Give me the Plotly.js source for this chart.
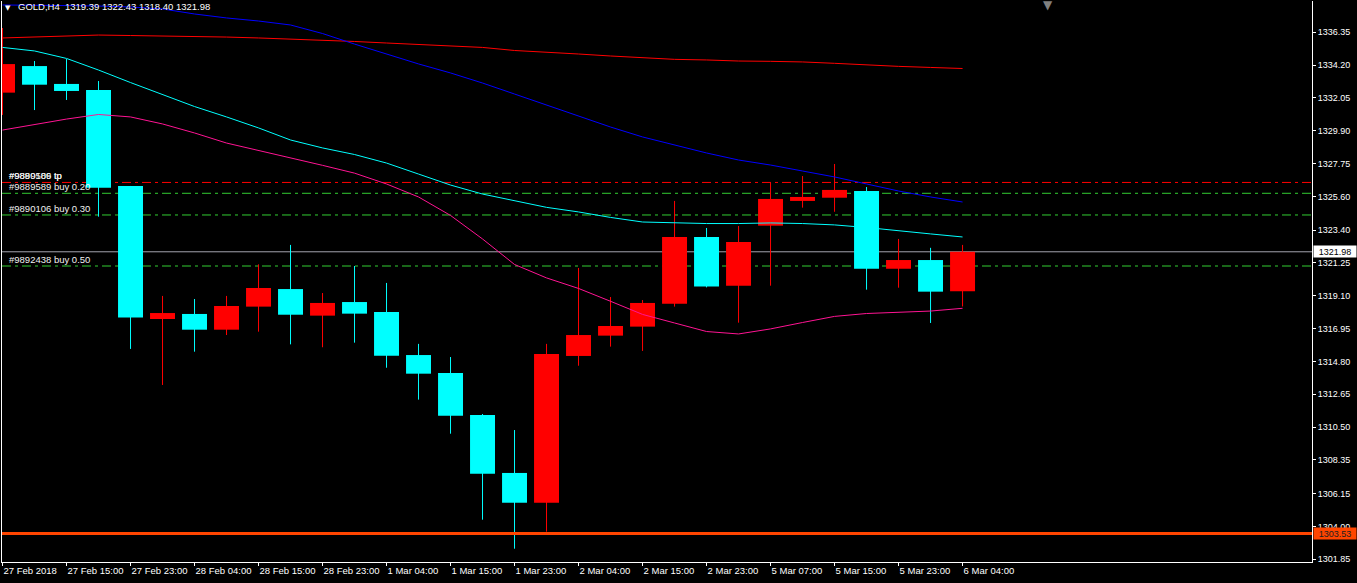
<!DOCTYPE html>
<html>
<head>
<meta charset="utf-8">
<script src="https://cdn.plot.ly/plotly-3.0.1.min.js"></script>
<style>
html,body{margin:0;padding:0;background:#000;}
#chart{width:1357px;height:583px;}
</style>
</head>
<body>
<div id="chart"></div>
<script>
// ---- Data (GOLD, H4) ----
const timeLabels = ["27 Feb 2018","27 Feb 15:00","27 Feb 23:00","28 Feb 04:00","28 Feb 15:00","28 Feb 23:00",
  "1 Mar 04:00","1 Mar 15:00","1 Mar 23:00","2 Mar 04:00","2 Mar 15:00","2 Mar 23:00",
  "5 Mar 07:00","5 Mar 15:00","5 Mar 23:00","6 Mar 04:00"];

const openP  = [1332.40,1334.14,1332.97,1332.57,1326.29,1317.58,1317.91,1316.88,1318.39,1319.54,
                1317.80,1318.69,1318.04,1315.22,1314.05,1311.30,1307.50,1305.55,1315.16,1316.49,
                1317.08,1318.58,1322.95,1319.76,1323.69,1325.31,1325.52,1325.96,1320.87,1321.44,1319.39];
const highP  = [1336.63,1334.47,1334.60,1333.16,1326.29,1319.09,1318.89,1319.09,1321.16,1322.43,
                1319.28,1321.05,1319.94,1315.95,1315.09,1311.36,1310.31,1315.95,1320.92,1319.02,
                1318.82,1325.31,1323.54,1323.67,1326.53,1326.94,1327.73,1326.22,1322.82,1322.24,1322.43];
const lowP   = [1330.94,1331.26,1331.92,1324.28,1315.62,1313.26,1315.44,1316.53,1316.75,1315.92,
                1315.73,1316.03,1314.39,1312.30,1310.07,1304.44,1302.54,1303.66,1314.52,1315.77,
                1315.49,1318.39,1319.65,1317.34,1319.76,1324.87,1324.60,1319.50,1319.63,1317.32,1318.40];
const closeP = [1334.27,1332.92,1332.51,1326.18,1317.67,1317.97,1316.88,1318.43,1319.61,1317.86,
                1318.63,1317.93,1315.18,1314.00,1311.25,1307.45,1305.55,1315.29,1316.53,1317.12,
                1318.63,1322.95,1319.70,1322.62,1325.44,1325.57,1326.03,1320.87,1321.44,1319.37,1321.98];

const maRed  = [1335.98,1336.04,1336.11,1336.17,1336.14,1336.11,1336.11,1336.04,1335.98,1335.91,
                1335.85,1335.75,1335.65,1335.55,1335.45,1335.36,1335.16,1335.06,1334.93,1334.80,
                1334.67,1334.58,1334.54,1334.47,1334.45,1334.41,1334.32,1334.21,1334.12,1334.05,1333.98];
const maBlue = [1338.14,1338.14,1338.10,1338.07,1338.01,1337.88,1337.55,1337.29,1337.09,1336.83,
                1336.27,1335.58,1334.93,1334.28,1333.69,1333.03,1332.31,1331.59,1330.87,1330.15,
                1329.50,1328.97,1328.45,1327.99,1327.66,1327.27,1326.88,1326.42,1325.96,1325.57,1325.24];
const maCyan = [1335.36,1335.13,1334.64,1333.88,1333.06,1332.28,1331.49,1330.81,1330.09,1329.30,
                1328.78,1328.35,1327.79,1327.07,1326.35,1325.76,1325.31,1324.89,1324.59,1324.23,
                1323.93,1323.87,1323.83,1323.83,1323.87,1323.83,1323.74,1323.57,1323.34,1323.15,1322.95];
const maPink = [1329.95,1330.31,1330.67,1330.97,1330.81,1330.35,1329.76,1329.10,1328.63,1328.13,
                1327.64,1327.13,1326.42,1325.57,1324.36,1322.82,1321.15,1320.27,1319.58,1318.74,
                1317.88,1317.32,1316.76,1316.60,1316.93,1317.35,1317.75,1317.94,1318.01,1318.10,1318.28];

const yTicks = [1301.85,1304.00,1306.15,1308.35,1310.50,1312.65,1314.80,1316.95,1319.10,
                1321.25,1323.40,1325.60,1327.75,1329.90,1332.05,1334.20,1336.35];

const tpPrice = 1326.52;
const tpLabels = ["#9889589 tp","#9890106 tp"];
const orderLabels = ["#9889589 buy 0.20","#9890106 buy 0.30","#9892438 buy 0.50"];
const orderPrices = [1325.81,1324.39,1321.05];
const bidPrice = 1321.98;
const lowLevel = 1303.53;
const header = "GOLD,H4  1319.39 1322.43 1318.40 1321.98";

// ---- Build traces ----
const idx = openP.map((_, i) => i);
const up = {x:[],base:[],h:[],wx:[],wy:[]}, dn = {x:[],base:[],h:[],wx:[],wy:[]};
for (let i = 0; i < openP.length; i++) {
  const o = openP[i], c = closeP[i];
  const g = c >= o ? up : dn;
  g.x.push(i); g.base.push(Math.min(o, c)); g.h.push(Math.max(Math.abs(c - o), 0.07));
  g.wx.push(i, i, null); g.wy.push(lowP[i], highP[i], null);
}
const UP = '#FF0000', DN = '#00FFFF';
const traces = [
  {type:'bar', x:up.x, y:up.h, base:up.base, width:0.78, marker:{color:UP, line:{width:0}}, hoverinfo:'skip'},
  {type:'bar', x:dn.x, y:dn.h, base:dn.base, width:0.78, marker:{color:DN, line:{width:0}}, hoverinfo:'skip'},
  {type:'scatter', mode:'lines', x:up.wx, y:up.wy, line:{color:UP, width:1}, hoverinfo:'skip', connectgaps:false},
  {type:'scatter', mode:'lines', x:dn.wx, y:dn.wy, line:{color:DN, width:1}, hoverinfo:'skip', connectgaps:false},
  {type:'scatter', mode:'lines', x:idx, y:maRed,  line:{color:'#FF0000', width:1}, hoverinfo:'skip'},
  {type:'scatter', mode:'lines', x:idx, y:maBlue, line:{color:'#0000FF', width:1}, hoverinfo:'skip'},
  {type:'scatter', mode:'lines', x:idx, y:maCyan, line:{color:'#00FFFF', width:1}, hoverinfo:'skip'},
  {type:'scatter', mode:'lines', x:idx, y:maPink, line:{color:'#FF1493', width:1}, hoverinfo:'skip'}
];

const FONT = 'Liberation Sans, Arial, sans-serif';
const dashPat = '9px,4px,3px,4px';
const shapes = [
  {type:'line', xref:'paper', x0:0, x1:1, yref:'y', y0:bidPrice, y1:bidPrice, line:{color:'#A4A4AE', width:1}, layer:'below'},
  {type:'line', xref:'paper', x0:0, x1:1, yref:'y', y0:tpPrice, y1:tpPrice, line:{color:'#FF0000', width:1, dash:dashPat}, layer:'below'}
];
orderPrices.forEach(p => shapes.push({type:'line', xref:'paper', x0:0, x1:1, yref:'y', y0:p, y1:p,
  line:{color:'#32CD32', width:1, dash:dashPat}, layer:'below'}));
shapes.push({type:'line', xref:'paper', x0:0, x1:1, yref:'y', y0:lowLevel, y1:lowLevel, line:{color:'#FF4500', width:3}, layer:'above'});

const lblX = 6/1310;
const annotations = [];
tpLabels.forEach(t => annotations.push({xref:'paper', x:lblX, xanchor:'left', yref:'y', y:tpPrice, yanchor:'bottom',
  yshift:0, text:t, showarrow:false, borderpad:0, font:{family:FONT, size:9.5, color:'#F0F0F0'}}));
orderLabels.forEach((t, i) => annotations.push({xref:'paper', x:lblX, xanchor:'left', yref:'y', y:orderPrices[i], yanchor:'bottom',
  yshift:0, text:t, showarrow:false, borderpad:0, font:{family:FONT, size:9.5, color:'#F0F0F0'}}));
annotations.push({xref:'paper', x:1, xanchor:'left', xshift:1, yref:'y', y:bidPrice, yanchor:'middle',
  text:bidPrice.toFixed(2), showarrow:false, bgcolor:'#FFFFFF', width:42, height:11, borderpad:0,
  font:{family:FONT, size:9, color:'#000000'}});
annotations.push({xref:'paper', x:1, xanchor:'left', xshift:1, yref:'y', y:lowLevel, yanchor:'middle',
  text:lowLevel.toFixed(2), showarrow:false, bgcolor:'#FF4500', width:42, height:11, borderpad:0,
  font:{family:FONT, size:9, color:'#202020'}});
annotations.push({xref:'paper', x:15/1310, xanchor:'left', yref:'paper', y:1, yanchor:'top', yshift:1,
  text:header, showarrow:false, borderpad:0, font:{family:FONT, size:9.5, color:'#FFFFFF'}});
annotations.push({xref:'paper', x:6/1310, xanchor:'center', yref:'paper', y:1, yanchor:'top', yshift:-2,
  text:'▼', showarrow:false, borderpad:0, font:{family:'DejaVu Sans', size:7, color:'#FFFFFF'}});
annotations.push({xref:'paper', x:1046/1310, xanchor:'center', yref:'paper', y:1, yanchor:'top', yshift:4,
  text:'▼', showarrow:false, borderpad:0, font:{family:'DejaVu Sans', size:12, color:'#808080'}});

const layout = {
  width:1357, height:583,
  margin:{l:2, r:45, t:1, b:21, pad:0},
  paper_bgcolor:'#000000', plot_bgcolor:'#000000',
  showlegend:false, barmode:'overlay', hovermode:false,
  font:{family:FONT, color:'#FFFFFF'},
  xaxis:{range:[-0.016, 40.92], showgrid:false, zeroline:false, showline:true, linecolor:'#FFFFFF', linewidth:1,
    mirror:false, tickmode:'array', tickvals:timeLabels.map((_, i) => i * 2), ticktext:timeLabels,
    ticks:'outside', ticklen:3, tickcolor:'#FFFFFF', ticklabelposition:'outside right', tickangle:0,
    automargin:false, tickfont:{family:FONT, size:9.5, color:'#FFFFFF'}, fixedrange:true},
  yaxis:{range:[1301.67, 1338.40], side:'right', showgrid:false, zeroline:false, showline:true, linecolor:'#FFFFFF',
    linewidth:1, mirror:true, tickmode:'array', tickvals:yTicks, ticktext:yTicks.map(v => v.toFixed(2)),
    ticks:'outside', ticklen:3, tickcolor:'#FFFFFF', automargin:false,
    tickfont:{family:FONT, size:9, color:'#FFFFFF'}, fixedrange:true},
  shapes:shapes,
  annotations:annotations
};

Plotly.newPlot('chart', traces, layout, {displayModeBar:false, staticPlot:true});
</script>
</body>
</html>
